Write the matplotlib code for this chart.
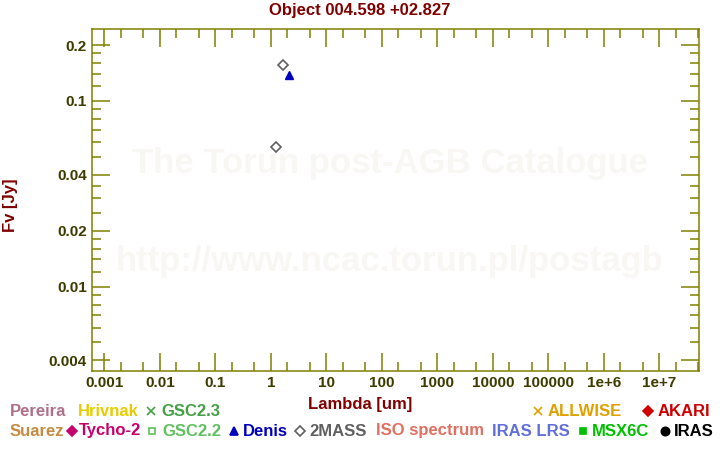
import matplotlib
matplotlib.use("Agg")
import matplotlib.pyplot as plt
from matplotlib.lines import Line2D
from matplotlib.ticker import FixedLocator, FixedFormatter, NullFormatter

plt.rcParams['font.family'] = ['Liberation Sans', 'DejaVu Sans']
plt.rcParams['font.weight'] = 'bold'

# photometry
mass2_lam = [1.26, 1.69]
mass2_flux = [0.0567, 0.156]
denis_lam = [2.14]
denis_flux = [0.1386]

xticks = [1e-3, 1e-2, 1e-1, 1, 10, 100, 1000, 1e4, 1e5, 1e6, 1e7]
xlabels = ['0.001', '0.01', '0.1', '1', '10', '100', '1000', '10000', '100000', '1e+6', '1e+7']
yticks = [0.004, 0.01, 0.02, 0.04, 0.1, 0.2]
ylabels = ['0.004', '0.01', '0.02', '0.04', '0.1', '0.2']
yminor = [0.005, 0.006, 0.007, 0.008, 0.009, 0.012, 0.014, 0.016, 0.018,
          0.025, 0.03, 0.035, 0.05, 0.06, 0.07, 0.08, 0.09,
          0.12, 0.14, 0.16, 0.18]

# legend rows: (text, colour, marker, marker x, text x)
row1 = [("Pereira", "#b07088", None, None, 10),
        ("Hrivnak", "#e8cc00", None, None, 78),
        ("GSC2.3", "#44a044", "x", 151, 161),
        ("ALLWISE", "#e0a000", "x", 538, 548),
        ("AKARI", "#d00000", "D", 648, 658)]
row2 = [("Suarez", "#c48c40", None, None, 10),
        ("Tycho-2", "#c8006c", "D", 72, 79),
        ("GSC2.2", "#60c060", "s_open", 152, 162),
        ("Denis", "#0000c0", "^", 234, 243),
        ("2MASS", "#606060", "D_open", 300, 309),
        ("ISO spectrum", "#e07060", None, None, 376),
        ("IRAS LRS", "#6070d8", None, None, 492),
        ("MSX6C", "#00c000", "s", 583, 592),
        ("IRAS", "#000000", "o", 665, 674)]

W, H = 720, 450
olive = "#808000"
tickc = "#3c3c00"
darkred = "#800000"

fig = plt.figure(figsize=(W / 100, H / 100), dpi=100)
ax = fig.add_axes([92.3 / W, 1 - 370.5 / H, 607 / W, 341.2 / H])

ax.set_xscale('log')
ax.set_yscale('log')
ax.set_xlim(6.08e-4, 5.26e7)
ax.set_ylim(0.00353, 0.243)

ax.plot(mass2_lam, mass2_flux, linestyle='none', marker='D', markersize=5,
        markerfacecolor='white', markeredgecolor='#606060', markeredgewidth=1.2, zorder=3)
ax.plot(denis_lam, denis_flux, linestyle='none', marker='^', markersize=5.5,
        color='#0000c0', zorder=3)

ax.xaxis.set_major_locator(FixedLocator(xticks))
ax.xaxis.set_major_formatter(FixedFormatter(xlabels))
xminor = []
for d in xticks + [1e-4, 1e8]:
    xminor += [2 * d, 5 * d]
ax.xaxis.set_minor_locator(FixedLocator(xminor))
ax.xaxis.set_minor_formatter(NullFormatter())
ax.yaxis.set_major_locator(FixedLocator(yticks))
ax.yaxis.set_major_formatter(FixedFormatter(ylabels))
ax.yaxis.set_minor_locator(FixedLocator(yminor))
ax.yaxis.set_minor_formatter(NullFormatter())

ax.tick_params(which='both', direction='in', top=True, right=True, color=olive, width=1.1)
ax.tick_params(which='major', length=13, labelsize=11, labelcolor=tickc, pad=4)
ax.tick_params(which='minor', length=6.5)
for s in ax.spines.values():
    s.set_color(olive)
    s.set_linewidth(1.1)

# watermark
ax.text(0.49, 0.608, "The Torun post-AGB Catalogue", transform=ax.transAxes,
        ha='center', va='center', fontsize=25, color='#f8f7f3', zorder=0)
ax.text(0.49, 0.318, "http://www.ncac.torun.pl/postagb", transform=ax.transAxes,
        ha='center', va='center', fontsize=25, color='#f8f7f3', zorder=0)

def fx(px):
    return px / W

def fy(py):
    return 1 - py / H

fig.text(fx(360), fy(11), "Object 004.598 +02.827", ha='center', va='center',
         fontsize=12, color=darkred)
fig.text(fx(360), fy(404), "Lambda [um]", ha='center', va='center',
         fontsize=12, color=darkred)
fig.text(fx(11), fy(205), "Fv [Jy]", ha='center', va='center', rotation=90,
         fontsize=12, color=darkred)

def legend_row(row, py):
    for name, col, mk, mx, tx in row:
        fig.text(fx(tx), fy(py), name, ha='left', va='center', fontsize=12, color=col)
        if mk is None:
            continue
        face = col
        m = mk
        if mk.endswith('_open'):
            m = mk[0]
            face = 'white'
        size = 5 if m in ('D', 's') else 6
        fig.add_artist(Line2D([fx(mx)], [fy(py)], transform=fig.transFigure,
                              marker=m, markersize=size, linestyle='none',
                              markerfacecolor=face, markeredgecolor=col,
                              markeredgewidth=1.2))

legend_row(row1, 411)
legend_row(row2, 431)

fig.savefig("out.png", dpi=100, facecolor='white')
